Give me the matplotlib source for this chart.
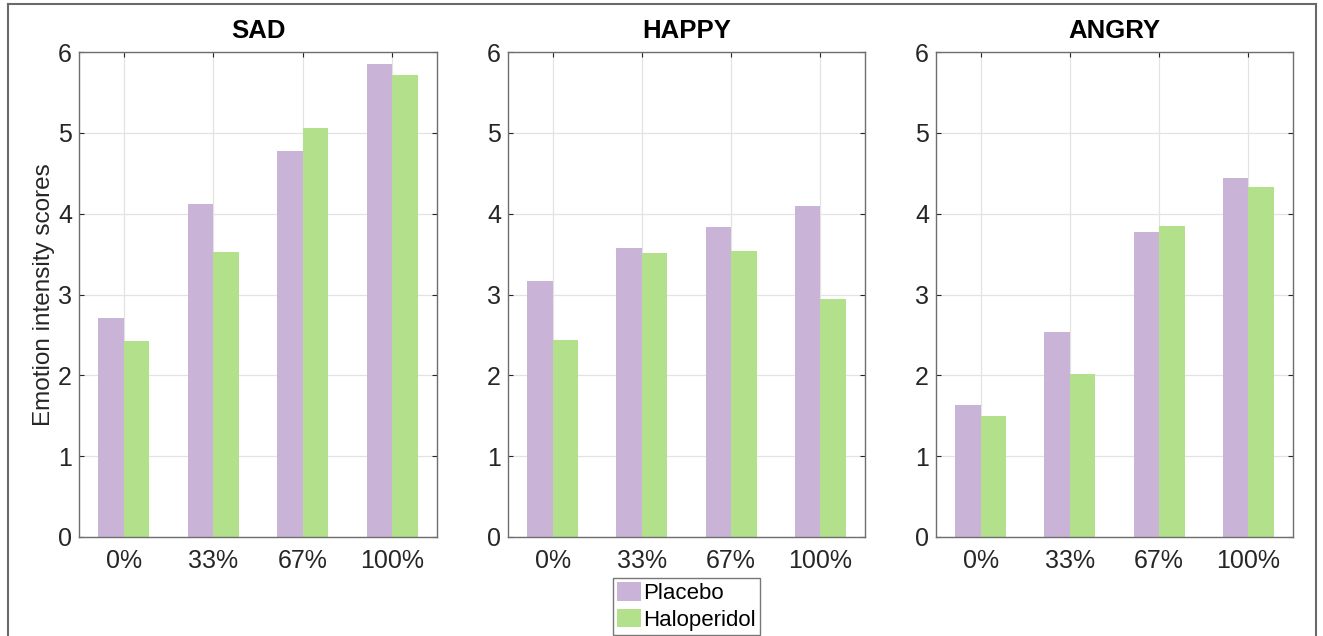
import matplotlib
matplotlib.use("Agg")
import matplotlib.pyplot as plt
from matplotlib.patches import Patch
from matplotlib.lines import Line2D
import numpy as np

plt.rcParams['font.family'] = ['Liberation Sans', 'DejaVu Sans']

# Data
levels = ['0%', '33%', '67%', '100%']
emotions = ['SAD', 'HAPPY', 'ANGRY']
placebo = {
    'SAD':   [2.71, 4.12, 4.78, 5.855],
    'HAPPY': [3.17, 3.58, 3.83, 4.09],
    'ANGRY': [1.63, 2.54, 3.77, 4.44],
}
haloperidol = {
    'SAD':   [2.42, 3.52, 5.06, 5.715],
    'HAPPY': [2.44, 3.51, 3.54, 2.94],
    'ANGRY': [1.50, 2.02, 3.85, 4.33],
}
series_names = ['Placebo', 'Haloperidol']
yticks = [0, 1, 2, 3, 4, 5, 6]

c_placebo = '#c9b3d7'
c_halo = '#b3e08a'
spine_col = '#6e6e6e'
tick_col = '#262626'

W, H = 1323, 636
fig = plt.figure(figsize=(W / 100, H / 100), dpi=100)

# panel placement in pixels: left, right, top, bottom
panels = [(79, 437, 52, 537), (508, 865, 52, 537), (936, 1293, 52, 537)]

x = np.arange(1, len(levels) + 1)
bw = 0.285

for (l, r, t, b), emo in zip(panels, emotions):
    ax = fig.add_axes([l / W, 1 - b / H, (r - l) / W, (b - t) / H])
    ax.bar(x - bw / 2, placebo[emo], width=bw, color=c_placebo, zorder=2)
    ax.bar(x + bw / 2, haloperidol[emo], width=bw, color=c_halo, zorder=2)
    ax.set_xlim(0.5, 4.5)
    ax.set_ylim(0, 6)
    ax.set_xticks(x)
    ax.set_xticklabels(levels)
    ax.set_yticks(yticks)
    ax.grid(True, color='#e3e3e3', linewidth=0.9, zorder=0)
    ax.set_axisbelow(True)
    for s in ax.spines.values():
        s.set_color(spine_col)
        s.set_linewidth(1.0)
    ax.tick_params(direction='in', length=3.5, width=0.8, color=tick_col,
                   top=True, right=True, labelsize=18, labelcolor='#262626')
    ax.tick_params(axis='x', pad=9)
    ax.tick_params(axis='y', pad=5)
    ax.set_title(emo, fontsize=18.5, fontweight='bold', pad=10)
    if emo == 'SAD':
        ax.set_ylabel('Emotion intensity scores', fontsize=17.5, color='#262626',
                      labelpad=2)

handles = [Patch(facecolor=c_placebo, edgecolor='none'),
           Patch(facecolor=c_halo, edgecolor='none')]
leg = fig.legend(handles, series_names, loc='upper center',
                 bbox_to_anchor=(686.5 / W, 1 - 578 / H), fontsize=16,
                 frameon=True, fancybox=False, borderpad=0.2,
                 handlelength=1.05, handleheight=0.9, handletextpad=0.1,
                 labelspacing=0.2, borderaxespad=0)
leg.get_frame().set_edgecolor('#555555')
leg.get_frame().set_linewidth(1.0)

# outer frame around the figure
fx0, fx1, fy0 = 7.5 / W, 1315.5 / W, 1 - 4 / H
for xs, ys in [([fx0, fx0], [0, fy0]), ([fx0, fx1], [fy0, fy0]), ([fx1, fx1], [fy0, 0])]:
    fig.add_artist(Line2D(xs, ys, color='#6a6a6a', linewidth=1.5,
                          transform=fig.transFigure))

fig.savefig('out.png', dpi=100)
